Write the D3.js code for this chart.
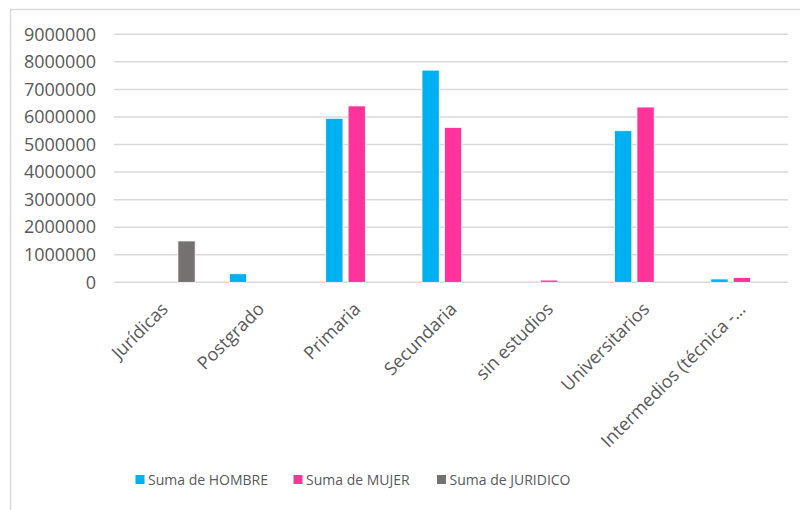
<!DOCTYPE html>
<html>
<head>
<meta charset="utf-8">
<script src="https://cdn.jsdelivr.net/npm/d3@7/dist/d3.min.js"></script>
<style>
  body { margin: 0; background: #fff; }
  svg text { font-family: "Open Sans", sans-serif; fill: #595959; }
</style>
</head>
<body>
<div id="chart"></div>
<script>
var categories = ["Jurídicas", "Postgrado", "Primaria", "Secundaria", "sin estudios", "Universitarios", "Intermedios (técnica -…"];
var seriesNames = ["Suma de HOMBRE", "Suma de MUJER", "Suma de JURIDICO"];
var hombre = [0, 310000, 5950000, 7700000, 0, 5500000, 120000];
var mujer = [0, 0, 6400000, 5620000, 80000, 6360000, 170000];
var juridico = [1500000, 0, 0, 0, 0, 0, 0];
var yTicks = [0, 1000000, 2000000, 3000000, 4000000, 5000000, 6000000, 7000000, 8000000, 9000000];
var colors = ["#00B0F0", "#FF3399", "#767171"];

var width = 800, height = 510;
var margin = { left: 114, right: 12, top: 34.3, bottom: 227.7 };
var innerW = width - margin.left - margin.right;
var innerH = height - margin.top - margin.bottom;

var svg = d3.select("#chart")
    .append("svg")
    .attr("width", width)
    .attr("height", height);

// chart area border
svg.append("rect")
    .attr("x", 10.5)
    .attr("y", 9.5)
    .attr("width", 820)
    .attr("height", 520)
    .attr("fill", "none")
    .attr("stroke", "#d9d9d9")
    .attr("stroke-width", 1.5);

var g = svg.append("g")
    .attr("transform", "translate(" + margin.left + "," + margin.top + ")");

var x = d3.scaleBand().domain(categories).range([0, innerW]);
var x1 = d3.scaleBand().domain(seriesNames).range([x.bandwidth() / 2 - 29, x.bandwidth() / 2 + 33]).paddingInner(0.23);
var y = d3.scaleLinear().domain([0, 9000000]).range([innerH, 0]);

// gridlines
g.selectAll(".grid")
    .data(yTicks)
    .enter().append("line")
    .attr("class", "grid")
    .attr("x1", 0)
    .attr("x2", innerW)
    .attr("y1", function(d) { return y(d); })
    .attr("y2", function(d) { return y(d); })
    .attr("stroke", "#d9d9d9")
    .attr("stroke-width", 1.5);

// y axis labels
var yAxis = g.append("g")
    .call(d3.axisLeft(y).tickValues(yTicks).tickFormat(d3.format("d")).tickSize(0).tickPadding(18));
yAxis.select(".domain").remove();
yAxis.selectAll("text")
    .style("font-size", "18px")
    .attr("fill", "#595959");

// bars
var table = categories.map(function(c, i) {
    return [
        { cat: c, s: seriesNames[0], v: hombre[i], c: colors[0] },
        { cat: c, s: seriesNames[1], v: mujer[i], c: colors[1] },
        { cat: c, s: seriesNames[2], v: juridico[i], c: colors[2] }
    ];
});

g.selectAll(".grp")
    .data(table)
    .enter().append("g")
    .attr("class", "grp")
    .attr("transform", function(d) { return "translate(" + x(d[0].cat) + ",0)"; })
    .selectAll("rect")
    .data(function(d) { return d.filter(function(e) { return e.v > 0; }); })
    .enter().append("rect")
    .attr("x", function(d) { return x1(d.s); })
    .attr("width", x1.bandwidth())
    .attr("y", function(d) { return y(d.v); })
    .attr("height", function(d) { return innerH - y(d.v); })
    .attr("fill", function(d) { return d.c; })
    .attr("stroke", "#ffffff")
    .attr("stroke-width", 0.75);

// x axis labels
g.selectAll(".xlab")
    .data(categories)
    .enter().append("text")
    .attr("class", "xlab")
    .attr("transform", function(d) {
        return "translate(" + (x(d) + x.bandwidth() / 2 - 2) + "," + (innerH + 19) + ") rotate(-45)";
    })
    .attr("text-anchor", "end")
    .attr("dy", "0.7em")
    .style("font-size", "18px")
    .text(function(d) { return d; });

// legend
var legendX = [135.5, 293.5, 437];
var legend = svg.selectAll(".leg")
    .data(seriesNames)
    .enter().append("g")
    .attr("class", "leg")
    .attr("transform", function(d, i) { return "translate(" + legendX[i] + ",480)"; });
legend.append("rect")
    .attr("x", 0)
    .attr("y", -5)
    .attr("width", 9)
    .attr("height", 9)
    .attr("fill", function(d, i) { return colors[i]; });
legend.append("text")
    .attr("x", 12.5)
    .attr("y", 0)
    .attr("dy", "0.35em")
    .style("font-size", "14px")
    .text(function(d) { return d; });
</script>
</body>
</html>
